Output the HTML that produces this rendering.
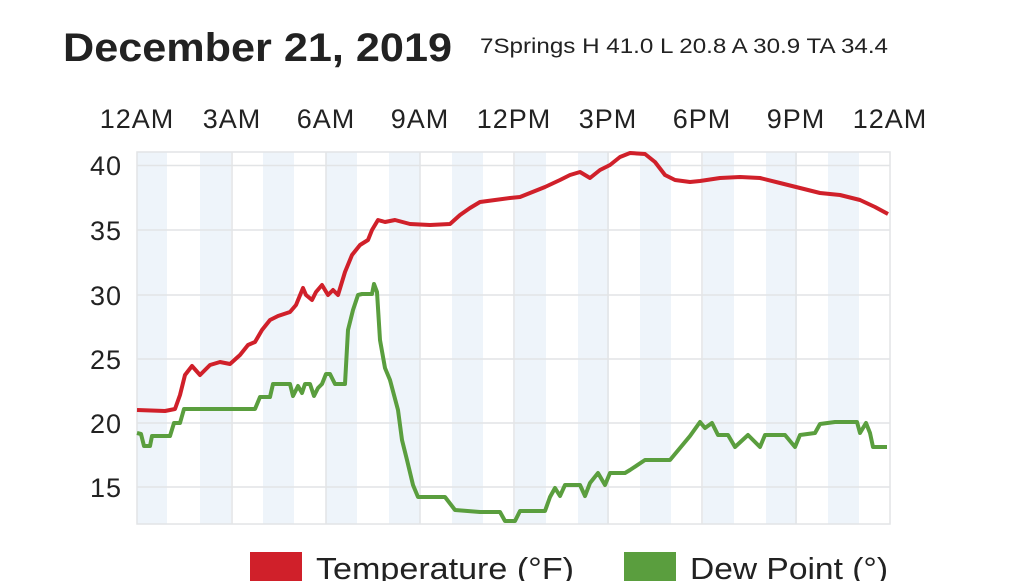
<!DOCTYPE html>
<html><head><meta charset="utf-8"><style>
body{margin:0;background:#fff;width:1024px;height:581px;overflow:hidden;font-family:"Liberation Sans",sans-serif;}
</style></head><body>
<svg width="1024" height="581" xmlns="http://www.w3.org/2000/svg" font-family="Liberation Sans, sans-serif">
<text x="63" y="61" font-size="40" font-weight="bold" fill="#222" textLength="389" lengthAdjust="spacingAndGlyphs">December 21, 2019</text>
<text x="480" y="53" font-size="21" fill="#222" textLength="408" lengthAdjust="spacingAndGlyphs">7Springs H 41.0 L 20.8 A 30.9 TA 34.4</text>
<g font-size="27" fill="#222" text-anchor="middle" letter-spacing="1">
<text x="137" y="128">12AM</text><text x="232" y="128">3AM</text><text x="326" y="128">6AM</text>
<text x="420" y="128">9AM</text><text x="514" y="128">12PM</text><text x="608" y="128">3PM</text>
<text x="702" y="128">6PM</text><text x="796" y="128">9PM</text><text x="890" y="128">12AM</text>
</g>
<g fill="#eef4fa">
<rect x="137" y="152" width="30" height="372"/><rect x="200" y="152" width="31" height="372"/>
<rect x="263" y="152" width="31" height="372"/><rect x="326" y="152" width="31" height="372"/>
<rect x="389" y="152" width="31" height="372"/><rect x="452" y="152" width="31" height="372"/>
<rect x="515" y="152" width="31" height="372"/><rect x="578" y="152" width="31" height="372"/>
<rect x="640" y="152" width="31" height="372"/><rect x="703" y="152" width="31" height="372"/>
<rect x="766" y="152" width="31" height="372"/><rect x="828" y="152" width="31" height="372"/>
</g>
<g stroke="#e2e4e6" stroke-width="1.5">
<line x1="137" y1="165.5" x2="890" y2="165.5"/><line x1="137" y1="230" x2="890" y2="230"/>
<line x1="137" y1="295" x2="890" y2="295"/><line x1="137" y1="359" x2="890" y2="359"/>
<line x1="137" y1="423" x2="890" y2="423"/><line x1="137" y1="487" x2="890" y2="487"/>
<line x1="232" y1="152" x2="232" y2="524"/><line x1="326" y1="152" x2="326" y2="524"/>
<line x1="420" y1="152" x2="420" y2="524"/><line x1="514" y1="152" x2="514" y2="524"/>
<line x1="608" y1="152" x2="608" y2="524"/><line x1="702" y1="152" x2="702" y2="524"/>
<line x1="796" y1="152" x2="796" y2="524"/>
</g>
<rect x="137" y="152" width="753" height="372" fill="none" stroke="#e2e4e6" stroke-width="1.5"/>
<g font-size="27" fill="#222" text-anchor="end" letter-spacing="1">
<text x="122" y="175">40</text><text x="122" y="240">35</text><text x="122" y="305">30</text>
<text x="122" y="369">25</text><text x="122" y="433">20</text><text x="122" y="497">15</text>
</g>
<polyline fill="none" stroke="#d0202a" stroke-width="4" stroke-linejoin="round" points="137,410 165,411 175,409 180,395 185,375 192,366 200,375 205,370 210,365 220,362 230,364 240,355 248,345 255,342 262,330 270,320 278,316 290,312 296,305 303,288 306,295 312,300 316,292 322,285 328,295 333,290 338,295 345,272 352,255 360,245 368,240 372,230 378,220 385,222 395,220 410,224 430,225 450,224 460,215 470,208 480,202 495,200 510,198 520,197 530,193 545,187 560,180 570,175 580,172 590,178 600,170 610,165 620,157 630,153 645,154 655,162 665,175 675,180 690,182 700,181 720,178 740,177 760,178 780,183 800,188 820,193 840,195 860,200 875,207 888,214"/>
<polyline fill="none" stroke="#5a9e3e" stroke-width="4" stroke-linejoin="round" points="137,433 141,434 144,446 150,446 152,436 170,436 174,423 180,423 184,409 255,409 260,397 270,397 273,384 290,384 293,396 298,386 302,393 305,384 310,384 314,396 318,388 322,384 326,374 330,374 335,384 345,384 348,330 353,310 358,295 362,294 372,294 374,284 377,292 380,340 385,368 390,380 398,410 402,440 407,460 413,485 418,497 445,497 455,510 480,512 500,512 505,521 515,521 520,511 545,511 550,497 555,488 560,496 565,485 580,485 585,496 590,483 598,473 605,485 610,473 625,473 630,470 645,460 670,460 680,448 690,436 700,422 705,428 712,423 718,435 728,435 735,447 748,435 760,447 765,435 785,435 795,447 800,435 815,433 820,424 835,422 857,422 860,433 866,423 870,433 873,447 887,447"/>
<rect x="250" y="552" width="52" height="30" fill="#d0202a"/>
<text x="316" y="579" font-size="31" fill="#222" textLength="258" lengthAdjust="spacingAndGlyphs">Temperature (°F)</text>
<rect x="624" y="552" width="52" height="30" fill="#5a9e3e"/>
<text x="690" y="579" font-size="31" fill="#222" textLength="198" lengthAdjust="spacingAndGlyphs">Dew Point (°)</text>
</svg>
</body></html>
